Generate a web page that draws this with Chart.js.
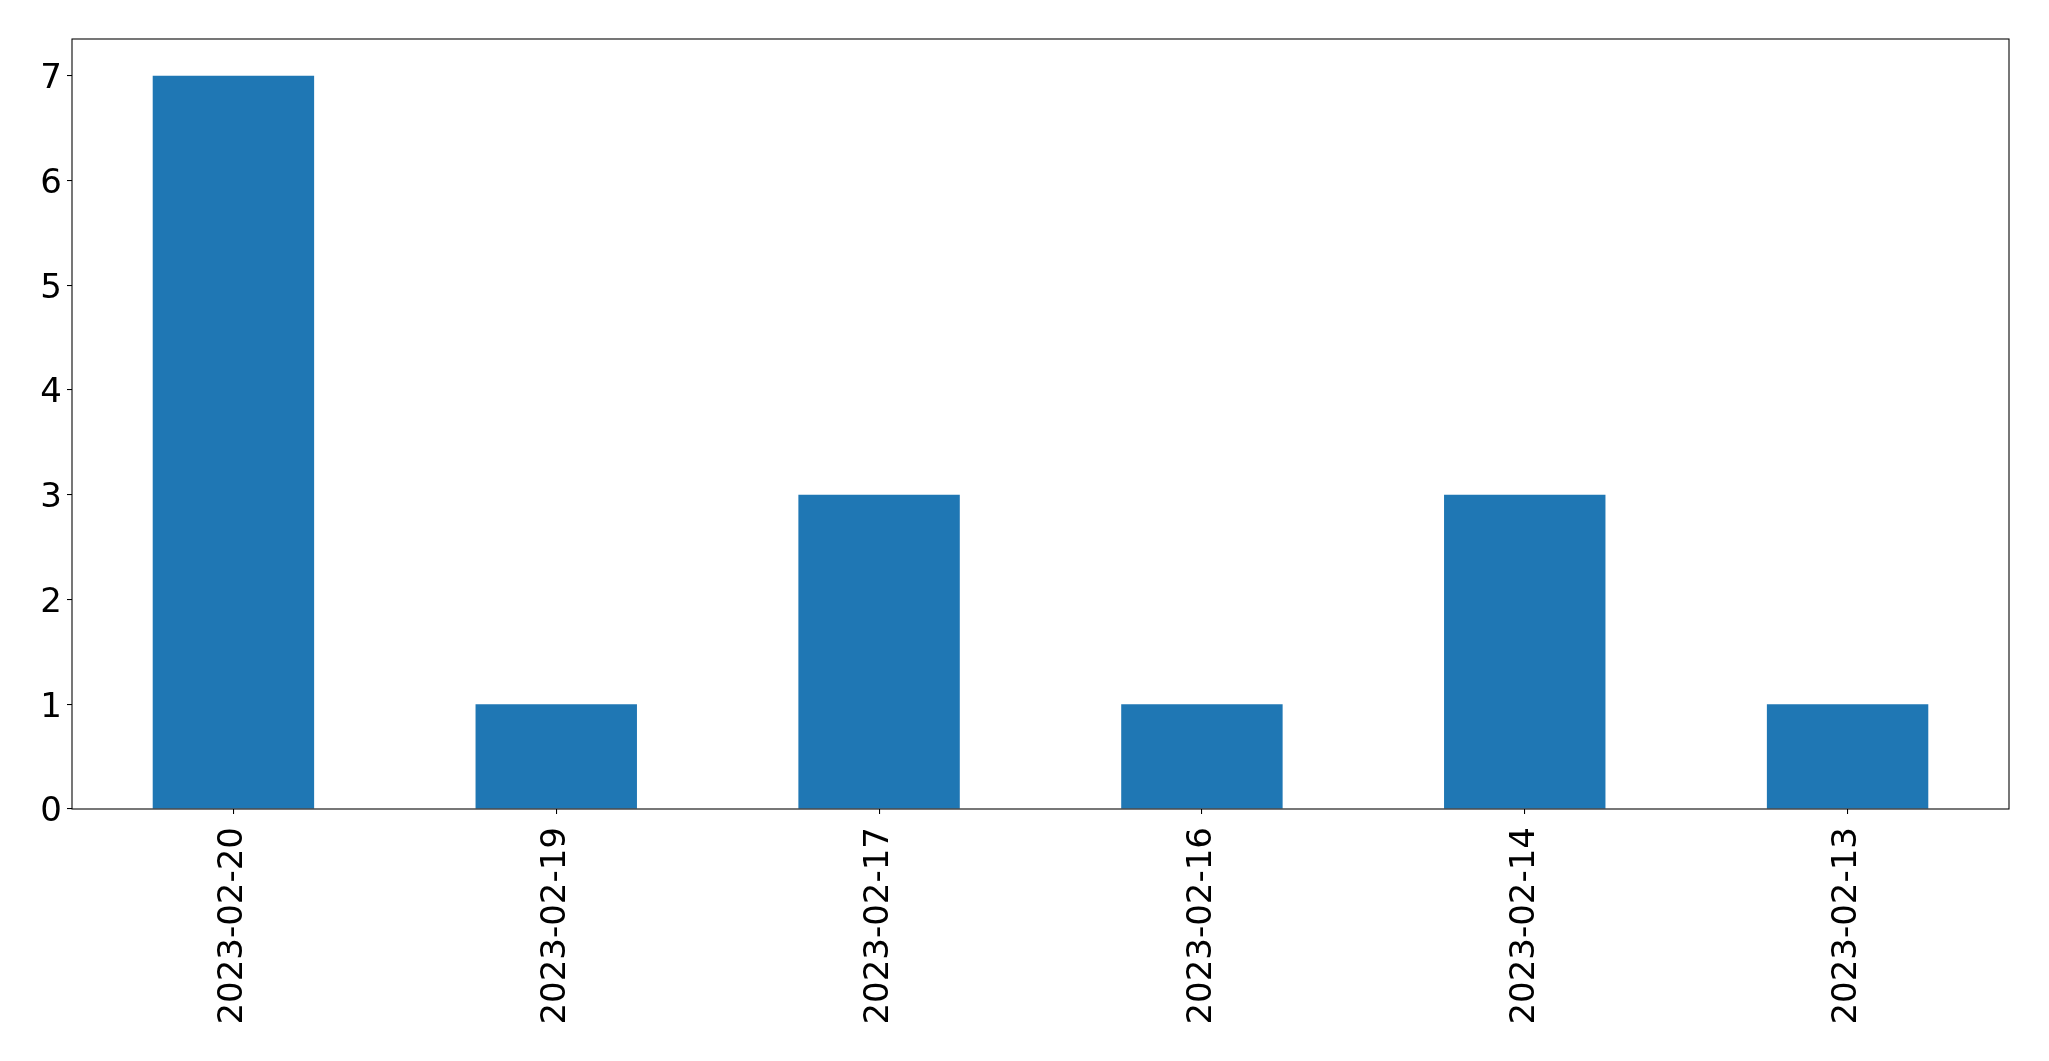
<!DOCTYPE html>
<html>
<head>
<meta charset="utf-8">
<script src="https://cdn.jsdelivr.net/npm/chart.js@4.4.0/dist/chart.umd.min.js"></script>
<style>
  html, body { margin: 0; padding: 0; background: #fff; }
  canvas { display: block; }
</style>
</head>
<body>
<canvas id="chart" width="2049" height="1061"></canvas>
<script>
const categories = ['2023-02-20', '2023-02-19', '2023-02-17', '2023-02-16', '2023-02-14', '2023-02-13'];
const counts = [7, 1, 3, 1, 3, 1];
const yTicks = [0, 1, 2, 3, 4, 5, 6, 7];

const tickFont = { family: 'DejaVu Sans', size: 34 };

// frame around the plot area, like the matplotlib axes box
const frame = {
    id: 'frame',
    afterDraw(chart) {
        const a = chart.chartArea;
        const ctx = chart.ctx;
        ctx.save();
        ctx.strokeStyle = '#000';
        ctx.lineWidth = 1.07;
        ctx.strokeRect(a.left, a.top, a.right - a.left, a.bottom - a.top);
        ctx.restore();
    }
};

new Chart(document.getElementById('chart'), {
    type: 'bar',
    data: {
        labels: categories,
        datasets: [{
            data: counts,
            backgroundColor: '#1f77b4',
            borderWidth: 0,
            categoryPercentage: 0.5,
            barPercentage: 1.0
        }]
    },
    options: {
        responsive: false,
        animation: false,
        devicePixelRatio: 1,
        layout: { padding: { left: 0, top: 39, right: 40, bottom: 0 } },
        plugins: {
            legend: { display: false },
            tooltip: { enabled: false }
        },
        scales: {
            x: {
                offset: true,
                grid: {
                    offset: false,
                    drawOnChartArea: false,
                    color: '#000',
                    lineWidth: 1.07,
                    tickLength: 5
                },
                border: { display: false },
                ticks: {
                    font: tickFont,
                    color: '#000',
                    minRotation: 90,
                    maxRotation: 90,
                    padding: 13,
                    autoSkip: false
                },
                afterFit(scale) { scale.height = 252; }
            },
            y: {
                min: 0,
                max: 7.35,
                afterBuildTicks(scale) {
                    scale.ticks = yTicks.map(v => ({ value: v }));
                },
                grid: {
                    drawOnChartArea: false,
                    color: '#000',
                    lineWidth: 1.07,
                    tickLength: 5
                },
                border: { display: false },
                ticks: {
                    // empty first line nudges the digit a few px down, as matplotlib centres it
                    callback: v => ['', String(v)],
                    font: { family: 'DejaVu Sans', size: 34, lineHeight: 7 / 34 },
                    color: '#000',
                    padding: 5
                },
                afterFit(scale) { scale.width = 72; }
            }
        }
    },
    plugins: [frame]
});
</script>
</body>
</html>
